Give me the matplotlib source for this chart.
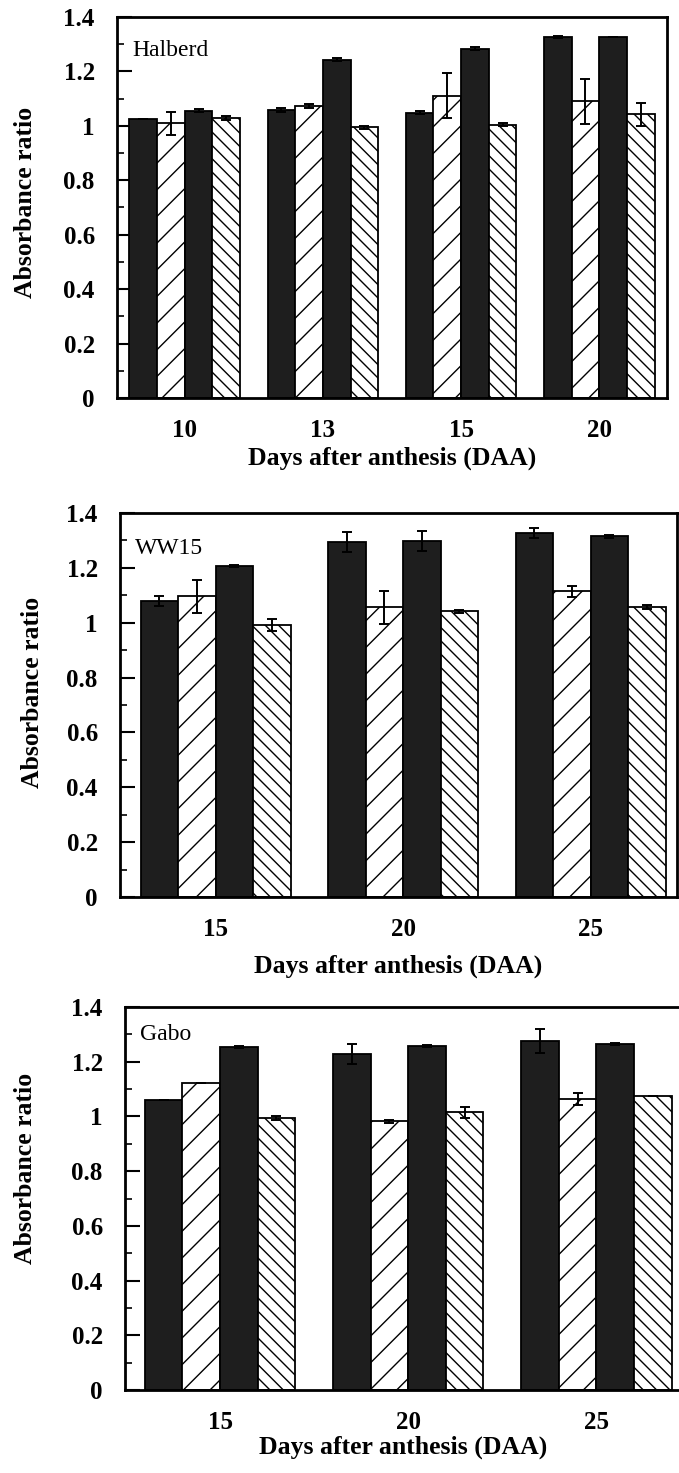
import matplotlib
matplotlib.use("Agg")
import matplotlib.pyplot as plt
import numpy as np
from matplotlib.ticker import MultipleLocator, FuncFormatter

# hatch spacing follows dpi, so draw at 80 dpi and scale point sizes up
DPI = 80
f = 100 / DPI

plt.rcParams['font.family'] = ['Liberation Serif', 'DejaVu Serif']
plt.rcParams['hatch.linewidth'] = 1.0 * f

# --- data ---------------------------------------------------------------
halberd_days = ['10', '13', '15', '20']
halberd_vals = [[1.025, 1.059, 1.049, 1.327],   # solid
                [1.009, 1.074, 1.111, 1.090],   # forward hatch
                [1.056, 1.243, 1.284, 1.327],   # solid
                [1.028, 0.994, 1.004, 1.043]]   # back hatch
halberd_err = [[0.000, 0.008, 0.004, 0.005],
               [0.041, 0.008, 0.082, 0.083],
               [0.005, 0.005, 0.005, 0.000],
               [0.008, 0.006, 0.006, 0.042]]

ww15_days = ['15', '20', '25']
ww15_vals = [[1.078, 1.293, 1.327],
             [1.097, 1.057, 1.115],
             [1.208, 1.299, 1.315],
             [0.990, 1.041, 1.057]]
ww15_err = [[0.018, 0.036, 0.017],
            [0.060, 0.060, 0.020],
            [0.004, 0.036, 0.005],
            [0.022, 0.005, 0.006]]

gabo_days = ['15', '20', '25']
gabo_vals = [[1.061, 1.228, 1.276],
             [1.121, 0.982, 1.063],
             [1.255, 1.257, 1.264],
             [0.994, 1.015, 1.075]]
gabo_err = [[0.000, 0.036, 0.045],
            [0.000, 0.006, 0.021],
            [0.004, 0.004, 0.004],
            [0.007, 0.021, 0.000]]

W, H = 679, 1473
fig = plt.figure(figsize=(W / DPI, H / DPI), dpi=DPI)

# axes boxes in pixels: left, right, top, bottom
boxes = [(117, 667, 17, 398), (120, 677, 513, 897), (125, 681, 1007, 1390)]
# name, labels, values, errors, xlim, name offset, ylabel (right x, centre y), xlabel top y
panels = [("Halberd", halberd_days, halberd_vals, halberd_err, (-0.49, 3.49), 33, (37, 202), 447),
          ("WW15", ww15_days, ww15_vals, ww15_err, (-0.51, 2.46), 35, (44, 692), 955),
          ("Gabo", gabo_days, gabo_vals, gabo_err, (-0.505, 2.45), 28, (37, 1168), 1436)]

styles = [dict(color='#1e1e1e', hatch=None),
          dict(color='white', hatch='/'),
          dict(color='#1e1e1e', hatch=None),
          dict(color='white', hatch='\\\\')]
bw = 0.2

for (l, r, t, b), (name, days, vals, errs, xl, ty, ylc, xly) in zip(boxes, panels):
    ax = fig.add_axes([l / W, (H - b) / H, (r - l) / W, (b - t) / H])
    x = np.arange(len(days))
    for k in range(4):
        pos = x + (k - 1.5) * bw
        ax.bar(pos, vals[k], width=bw, color=styles[k]['color'],
               hatch=styles[k]['hatch'], edgecolor='black', linewidth=1.3 * f,
               zorder=2)
        ax.errorbar(pos, vals[k], yerr=errs[k], fmt='none', ecolor='black',
                    elinewidth=1.4 * f, capsize=3.5 * f, capthick=1.4 * f,
                    zorder=3)
    ax.set_xlim(*xl)
    ax.set_ylim(0, 1.4)
    ax.set_xticks(x)
    ax.set_xticklabels(days, fontweight='bold', fontsize=18 * f)
    ax.tick_params(axis='x', length=0, pad=15 * f)
    ax.yaxis.set_major_locator(MultipleLocator(0.2))
    ax.yaxis.set_minor_locator(MultipleLocator(0.1))
    ax.yaxis.set_major_formatter(FuncFormatter(lambda v, p: f"{v:g}"))
    ax.tick_params(axis='y', which='major', direction='in', length=11 * f,
                   width=1.5 * f, pad=16 * f, labelsize=18 * f)
    ax.tick_params(axis='y', which='minor', direction='in', length=5 * f,
                   width=1.2 * f)
    for lab in ax.get_yticklabels():
        lab.set_fontweight('bold')
    for s in ax.spines.values():
        s.set_linewidth(2 * f)
    ax.set_ylabel("Absorbance ratio", fontweight='bold', fontsize=18.5 * f)
    ax.yaxis.set_label_coords((ylc[0] - l) / (r - l), (b - ylc[1]) / (b - t))
    ax.set_xlabel("Days after anthesis (DAA)", fontweight='bold',
                  fontsize=18.5 * f)
    ax.xaxis.set_label_coords(0.5, (b - xly) / (b - t))
    ax.text(15 / (r - l), 1 - ty / (b - t), name, transform=ax.transAxes,
            fontsize=17 * f, va='center', ha='left')

fig.savefig("out.png", dpi=DPI)
